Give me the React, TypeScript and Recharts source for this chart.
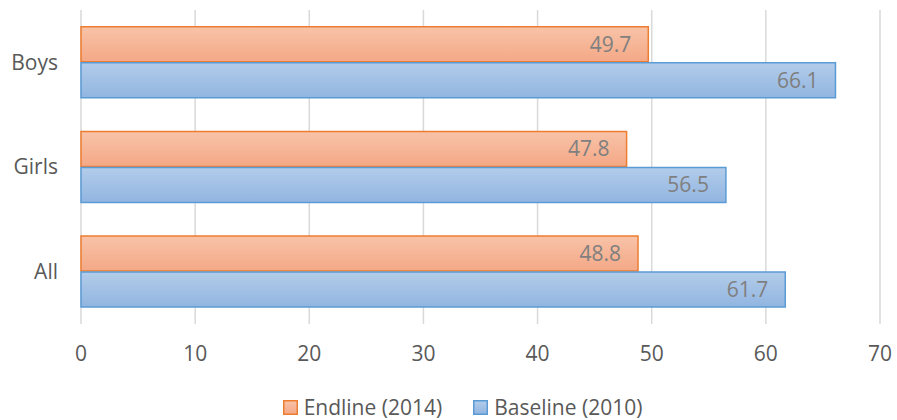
import React from "react";
import { BarChart, Bar, XAxis, YAxis, CartesianGrid, LabelList } from "recharts";

const categories = ["Boys", "Girls", "All"];
const endline2014 = [49.7, 47.8, 48.8];
const baseline2010 = [66.1, 56.5, 61.7];
const xTicks = [0, 10, 20, 30, 40, 50, 60, 70];

const data = categories.map((name, i) => ({
  name,
  endline: endline2014[i],
  baseline: baseline2010[i],
}));

const FONT = "'Open Sans', 'DejaVu Sans', sans-serif";
const FS = 21;

const legendItems = [
  { label: "Endline (2014)", grad: "gradOrangeL", stroke: "#ED7D31", top: "#F8C3A8", bottom: "#F4A886" },
  { label: "Baseline (2010)", grad: "gradBlueL", stroke: "#5B9BD5", top: "#B3CCEA", bottom: "#91B5E0" },
];

const CustomLegend = () => (
  <div
    style={{
      position: "absolute",
      left: 14,
      top: 393,
      width: 897,
      height: 28,
      display: "flex",
      justifyContent: "center",
      alignItems: "center",
      fontFamily: FONT,
      fontSize: FS,
      color: "#595959",
      gap: 31,
    }}
  >
    {legendItems.map((it) => (
      <div key={it.label} style={{ display: "flex", alignItems: "center" }}>
        <svg width={15} height={15} style={{ marginRight: 6 }}>
          <defs>
            <linearGradient id={it.grad} x1="0" y1="0" x2="0" y2="1">
              <stop offset="0%" stopColor={it.top} />
              <stop offset="100%" stopColor={it.bottom} />
            </linearGradient>
          </defs>
          <rect x={0.75} y={0.75} width={13.5} height={13.5} fill={`url(#${it.grad})`} stroke={it.stroke} strokeWidth={1.5} />
        </svg>
        <span>{it.label}</span>
      </div>
    ))}
  </div>
);

export default function App() {
  return (
    <div style={{ position: "absolute", left: 0, top: 0, width: 897, height: 420, background: "#fff", overflow: "hidden" }}>
      <BarChart
        width={897}
        height={420}
        data={data}
        layout="vertical"
        margin={{ top: 10, right: 17, left: 0, bottom: 36 }}
        barCategoryGap="16%"
        barGap={1}
      >
        <defs>
          <linearGradient id="gradOrange" x1="0" y1="0" x2="0" y2="1">
            <stop offset="0%" stopColor="#F8C3A8" />
            <stop offset="100%" stopColor="#F4A886" />
          </linearGradient>
          <linearGradient id="gradBlue" x1="0" y1="0" x2="0" y2="1">
            <stop offset="0%" stopColor="#B3CCEA" />
            <stop offset="100%" stopColor="#91B5E0" />
          </linearGradient>
        </defs>
        <CartesianGrid horizontal={false} stroke="#D9D9D9" strokeWidth={1.5} />
        <XAxis
          type="number"
          domain={[0, 70]}
          ticks={xTicks}
          axisLine={false}
          tickLine={false}
          tickSize={0}
          tickMargin={22}
          height={60}
          tick={{ fill: "#595959", fontSize: FS, fontFamily: FONT }}
          interval={0}
        />
        <YAxis
          type="category"
          dataKey="name"
          width={81}
          axisLine={false}
          tickLine={false}
          tickSize={0}
          tickMargin={23}
          tick={{ fill: "#595959", fontSize: FS, fontFamily: FONT }}
        />
        <Bar dataKey="endline" name="Endline (2014)" fill="url(#gradOrange)" stroke="#ED7D31" strokeWidth={1.5} isAnimationActive={false}>
          <LabelList dataKey="endline" position="insideRight" offset={17} fill="#7F7F7F" fontSize={FS} fontFamily={FONT} />
        </Bar>
        <Bar dataKey="baseline" name="Baseline (2010)" fill="url(#gradBlue)" stroke="#5B9BD5" strokeWidth={1.5} isAnimationActive={false}>
          <LabelList dataKey="baseline" position="insideRight" offset={17} fill="#7F7F7F" fontSize={FS} fontFamily={FONT} />
        </Bar>
      </BarChart>
      <CustomLegend />
    </div>
  );
}
